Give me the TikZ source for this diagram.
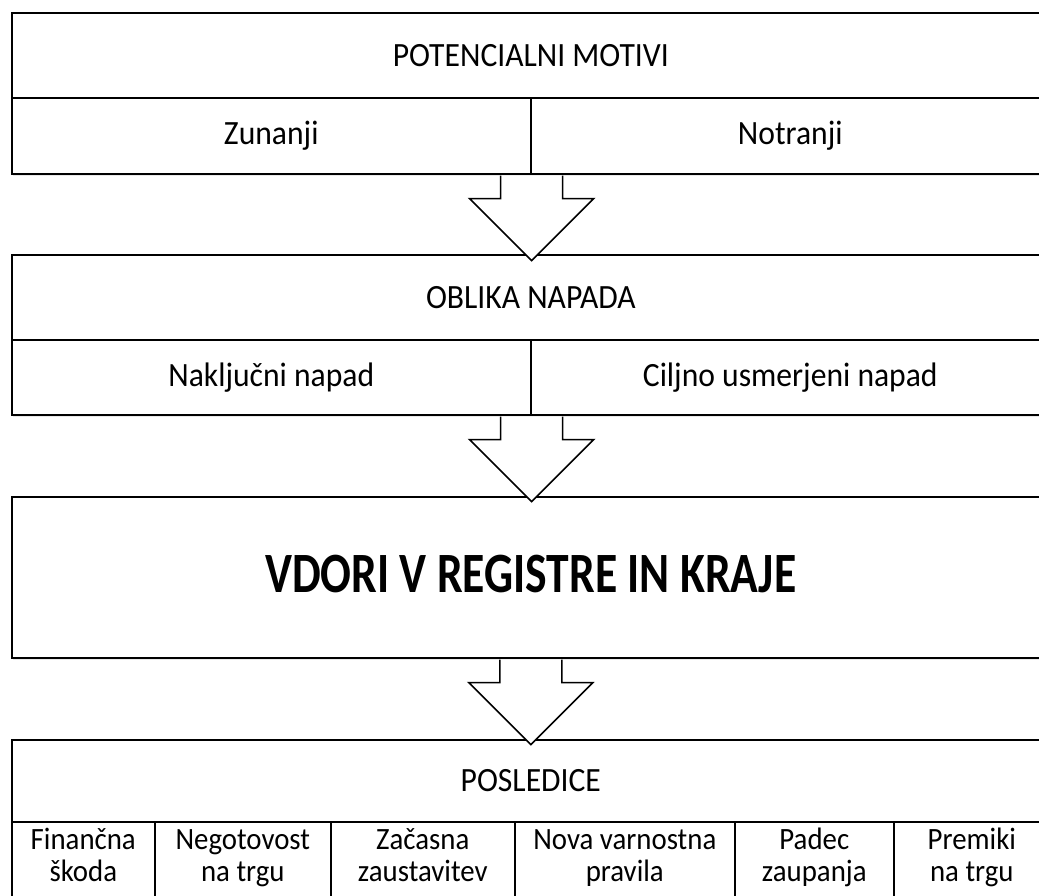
\documentclass[tikz,border=0pt]{standalone}
\usepackage{fontspec}
\setmainfont{Carlito}[FakeStretch=0.93, BoldFeatures={FakeStretch=0.8}]
\usetikzlibrary{calc,shadows}
\tikzset{
  cell/.style={draw, line width=1.6pt, fill=white, inner sep=0pt, anchor=north west,
    align=center, font=\fontsize{34}{34}\selectfont,
    drop shadow={opacity=0.18, shadow xshift=1pt, shadow yshift=-2pt}},
  celltext/.style={inner sep=0pt, anchor=north, align=center, font=\fontsize{31}{32}\selectfont},
  blockarrow/.style={draw, line width=1.6pt, fill=white, line join=miter}
}
\newcommand{\blockarrow}[1]{%
  \draw[blockarrow] ($(#1)+(-31,1)$) -- ++(0,23) -- ++(-31,0) -- ++(62,62)
    -- ++(62,-62) -- ++(-31,0) -- ++(0,-23);}
\begin{document}
\begin{tikzpicture}[x=1pt, y=-1pt]
    \useasboundingbox (0,0) rectangle (1039,895);

    \node[cell, minimum width=1038pt, minimum height=85pt] (motivi) at (11,12) {POTENCIALNI MOTIVI};
    \node[cell, minimum width=519pt, minimum height=76pt] (zunanji) at (11,97) {Zunanji};
    \node[cell, minimum width=519pt, minimum height=76pt] (notranji) at (530,97) {Notranji};

    \node[cell, minimum width=1038pt, minimum height=85pt] (oblika) at (11,254) {OBLIKA NAPADA};
    \node[cell, minimum width=519pt, minimum height=75pt] (nakljucni) at (11,339) {Naključni napad};
    \node[cell, minimum width=519pt, minimum height=75pt] (ciljno) at (530,339) {Ciljno usmerjeni napad};

    \node[cell, minimum width=1038pt, minimum height=161pt, font=\fontsize{57}{60}\selectfont\bfseries] (vdori) at (11,496) {\raisebox{6pt}{VDORI V REGISTRE IN KRAJE}};

    \node[cell, minimum width=1038pt, minimum height=82pt] (posledice) at (11,739) {\raisebox{-4pt}{POSLEDICE}};
    \foreach \xa/\xb/\name/\la/\lb in {11/154/skoda/Finančna/škoda, 154/330/negotovost/Negotovost/na trgu,
        330/514/zacasna/Začasna/zaustavitev, 514/734/pravila/Nova varnostna/pravila,
        734/893/zaupanja/Padec/zaupanja, 893/1049/premiki/Premiki/na trgu}
    {
        \pgfmathsetmacro{\w}{\xb-\xa}
        \node[cell, minimum width=\w pt, minimum height=92pt] (\name) at (\xa,821) {};
        \node[celltext] (\name t) at ($(\name.north)+(0,6)$) {\strut\la\\\strut\lb};
    }

    \blockarrow{zunanji.south east}
    \blockarrow{nakljucni.south east}
    \blockarrow{vdori.south}
\end{tikzpicture}
\end{document}
